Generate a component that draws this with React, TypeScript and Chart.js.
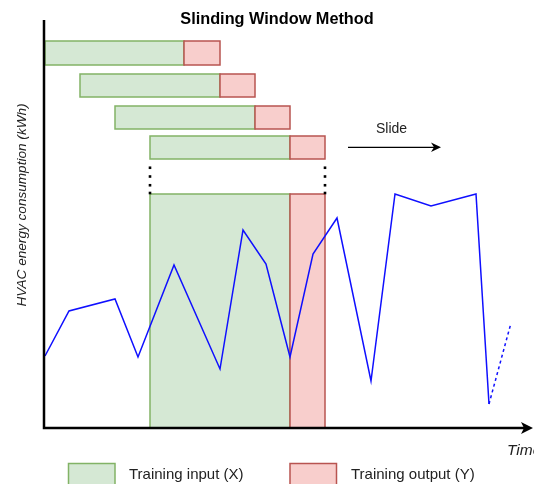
import React, { useEffect, useRef } from "react";
import { Chart, registerables } from "chart.js";

Chart.register(...registerables);

// Time positions (arbitrary time units) and HVAC consumption values
const timeSteps = [0, 24, 70, 93, 129, 175, 198, 221, 245, 268, 292, 326, 350, 386, 431, 444, 466];
const consumption = [72, 117, 129, 71, 163, 59, 198, 164, 71, 174, 210, 47, 234, 222, 234, 24, 105];

// Sliding windows: start of input, start of output, end of output (time units)
const windowStart = [0, 35, 70, 105];
const windowSplit = [139, 175, 210, 245];
const windowEnd = [175, 210, 245, 280];
// vertical bands of each window row (value units)
const windowTop = [387, 354, 322, 292];
const windowBottom = [363, 331, 299, 269];
// the highlighted window over the series
const bigWindow = { start: 105, split: 245, end: 280, top: 234, bottom: 0 };

const titleText = "Slinding Window Method";
const yLabel = "HVAC energy consumption (kWh)";
const xLabel = "Time";
const slideText = "Slide";
const legendLabels = ["Training input (X)", "Training output (Y)"];

const GREEN_FILL = "#d5e8d4";
const GREEN_STROKE = "#82b366";
const RED_FILL = "#f8cecc";
const RED_STROKE = "#b85450";
const FONT = "'Liberation Sans', Arial, Helvetica, sans-serif";

function rect(ctx: CanvasRenderingContext2D, x0: number, y0: number, x1: number, y1: number, fill: string, stroke: string) {
  ctx.fillStyle = fill;
  ctx.fillRect(x0, y0, x1 - x0, y1 - y0);
  ctx.strokeStyle = stroke;
  ctx.lineWidth = 1.5;
  ctx.strokeRect(x0, y0, x1 - x0, y1 - y0);
}

const windowsPlugin = {
  id: "windows",
  beforeDatasetsDraw(chart: any) {
    const ctx: CanvasRenderingContext2D = chart.ctx;
    const xs = chart.scales.x;
    const ys = chart.scales.y;
    ctx.save();
    for (let i = 0; i < windowStart.length; i++) {
      const a = xs.getPixelForValue(windowStart[i]);
      const b = xs.getPixelForValue(windowSplit[i]);
      const c = xs.getPixelForValue(windowEnd[i]);
      const t = ys.getPixelForValue(windowTop[i]);
      const bo = ys.getPixelForValue(windowBottom[i]);
      rect(ctx, a, t, b, bo, GREEN_FILL, GREEN_STROKE);
      rect(ctx, b, t, c, bo, RED_FILL, RED_STROKE);
    }
    const a = xs.getPixelForValue(bigWindow.start);
    const b = xs.getPixelForValue(bigWindow.split);
    const c = xs.getPixelForValue(bigWindow.end);
    const t = ys.getPixelForValue(bigWindow.top);
    const bo = ys.getPixelForValue(bigWindow.bottom);
    rect(ctx, a, t, b, bo, GREEN_FILL, GREEN_STROKE);
    rect(ctx, b, t, c, bo, RED_FILL, RED_STROKE);

    // dots between last window row and the highlighted window
    const rowBottom = ys.getPixelForValue(windowBottom[windowBottom.length - 1]);
    ctx.fillStyle = "#000";
    for (let k = 1; k <= 4; k++) {
      const y = rowBottom + (t - rowBottom) * (k / 4) - (k === 4 ? 1 : 0);
      ctx.fillRect(a - 1.3, y - 1.3, 2.6, 2.6);
      ctx.fillRect(c - 1.3, y - 1.3, 2.6, 2.6);
    }
    ctx.restore();
  },
  afterDatasetsDraw(chart: any) {
    const ctx: CanvasRenderingContext2D = chart.ctx;
    const area = chart.chartArea;
    ctx.save();
    // axes
    ctx.strokeStyle = "#000";
    ctx.lineWidth = 2.5;
    ctx.beginPath();
    ctx.moveTo(area.left - 1, area.top);
    ctx.lineTo(area.left - 1, area.bottom);
    ctx.lineTo(area.right - 10, area.bottom);
    ctx.stroke();
    ctx.fillStyle = "#000";
    ctx.beginPath();
    ctx.moveTo(area.right - 1, area.bottom);
    ctx.lineTo(area.right - 13, area.bottom - 6);
    ctx.lineTo(area.right - 10, area.bottom);
    ctx.lineTo(area.right - 13, area.bottom + 6);
    ctx.closePath();
    ctx.fill();

    // title
    ctx.fillStyle = "#000";
    ctx.font = `bold 16.3px ${FONT}`;
    ctx.textAlign = "center";
    ctx.textBaseline = "middle";
    ctx.fillText(titleText, 277, 20);

    // slide label + arrow
    ctx.fillStyle = "#222";
    ctx.font = `14px ${FONT}`;
    ctx.fillText(slideText, 391.5, 129);
    ctx.strokeStyle = "#000";
    ctx.lineWidth = 1.3;
    ctx.beginPath();
    ctx.moveTo(348, 147.3);
    ctx.lineTo(434, 147.3);
    ctx.stroke();
    ctx.fillStyle = "#000";
    ctx.beginPath();
    ctx.moveTo(441, 147.3);
    ctx.lineTo(431, 142.5);
    ctx.lineTo(434, 147.3);
    ctx.lineTo(431, 152);
    ctx.closePath();
    ctx.fill();

    // y-axis label
    ctx.save();
    ctx.translate(22.5, 205);
    ctx.rotate(-Math.PI / 2);
    ctx.fillStyle = "#222";
    ctx.font = `italic 13.6px ${FONT}`;
    ctx.textAlign = "center";
    ctx.textBaseline = "middle";
    ctx.fillText(yLabel, 0, 0);
    ctx.restore();

    // x-axis label
    ctx.fillStyle = "#222";
    ctx.font = `italic 15.5px ${FONT}`;
    ctx.textAlign = "left";
    ctx.textBaseline = "middle";
    ctx.fillText(xLabel, 507, 451);

    // legend
    rect(ctx, 68.5, 463.5, 115, 490, GREEN_FILL, GREEN_STROKE);
    rect(ctx, 290, 463.5, 336.5, 490, RED_FILL, RED_STROKE);
    ctx.fillStyle = "#222";
    ctx.font = `15px ${FONT}`;
    ctx.textAlign = "left";
    ctx.textBaseline = "middle";
    ctx.fillText(legendLabels[0], 129, 475);
    ctx.fillText(legendLabels[1], 351, 475);
    ctx.restore();
  },
};

export default function App() {
  const canvasRef = useRef<HTMLCanvasElement | null>(null);
  useEffect(() => {
    if (!canvasRef.current) return;
    const n = timeSteps.length;
    const chart = new Chart(canvasRef.current, {
      type: "line",
      data: {
        datasets: [
          {
            data: timeSteps.map((t, i) => ({ x: t, y: consumption[i] })),
            borderColor: "#0f0fff",
            borderWidth: 1.5,
            pointRadius: 0,
            tension: 0,
            fill: false,
            segment: {
              borderDash: (c: any) => (c.p1DataIndex === n - 1 ? [3, 3] : undefined),
            },
          },
        ],
      },
      options: {
        responsive: false,
        animation: false,
        events: [],
        layout: { padding: { left: 45, right: 0, top: 20, bottom: 56 } },
        scales: {
          x: { type: "linear", min: 0, max: 489, display: false },
          y: { type: "linear", min: 0, max: 408, display: false },
        },
        plugins: {
          legend: { display: false },
          title: { display: false },
          tooltip: { enabled: false },
        },
      },
      plugins: [windowsPlugin],
    });
    return () => chart.destroy();
  }, []);
  return (
    <div style={{ position: "absolute", left: 0, top: 0, width: 534, height: 484, background: "#fff" }}>
      <canvas ref={canvasRef} width={534} height={484} style={{ display: "block" }} />
    </div>
  );
}
